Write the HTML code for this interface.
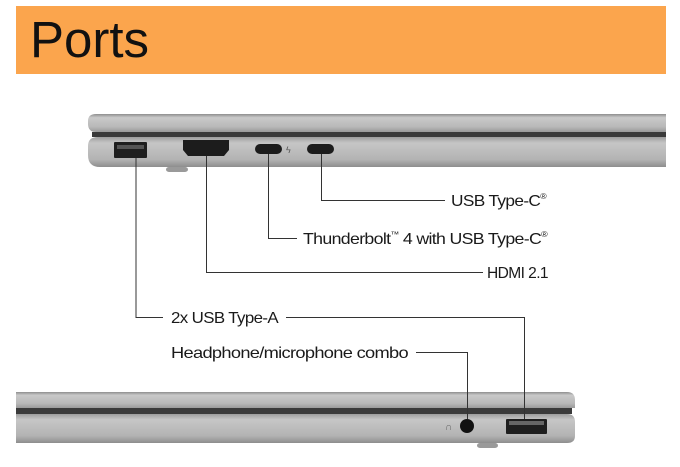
<!DOCTYPE html>
<html><head><meta charset="utf-8"><style>
html,body{margin:0;padding:0;background:#fff;}
body{width:680px;height:467px;overflow:hidden;position:relative;}
svg{position:absolute;left:0;top:0;}
text{font-family:"Liberation Sans",sans-serif;fill:#1a1a1a;}
</style></head><body>
<svg width="680" height="467" viewBox="0 0 680 467">
<defs>
<linearGradient id="lid" x1="0" y1="0" x2="0" y2="1">
<stop offset="0" stop-color="#8e8e8e"/><stop offset="0.2" stop-color="#c9c9c9"/><stop offset="0.7" stop-color="#b9b9b9"/><stop offset="1" stop-color="#9a9a9a"/></linearGradient>
<linearGradient id="base" x1="0" y1="0" x2="0" y2="1">
<stop offset="0" stop-color="#9d9d9d"/><stop offset="0.2" stop-color="#c6c6c6"/><stop offset="0.75" stop-color="#b3b3b3"/><stop offset="1" stop-color="#8e8e8e"/></linearGradient>
</defs>
<rect x="16" y="6" width="650" height="68" fill="#FBA54D"/>
<text x="30" y="57" font-size="51" style="fill:#111">Ports</text>

<!-- top laptop -->
<path d="M96 114 H666 V132 H96 Q88 132 88 124 V121 Q88 114 96 114Z" fill="url(#lid)"/>
<rect x="92" y="132" width="574" height="5" fill="#3a3a3a"/>
<path d="M98 137 H666 V167 H100 Q88 167 88 155 V146 Q88 137 98 137Z" fill="url(#base)"/>
<rect x="166" y="167" width="22" height="5" rx="3" fill="#9a9a9a"/>
<rect x="114" y="142" width="33" height="16" rx="1" fill="#1f1f1f"/>
<rect x="117" y="145" width="27" height="4" fill="#555"/>
<path d="M183 140 H229 V150 L224 156 H188 L183 150Z" fill="#1c1c1c"/>
<rect x="255" y="144" width="27" height="10" rx="5" fill="#1c1c1c"/>
<rect x="307" y="144" width="27" height="10" rx="5" fill="#1c1c1c"/>
<text x="286" y="153" font-size="9" style="fill:#555">ϟ</text>

<!-- bottom laptop -->
<path d="M16 392 H567 Q575 392 575 400 V408 H16Z" fill="url(#lid)"/>
<rect x="16" y="408" width="556" height="6" fill="#3a3a3a"/>
<path d="M16 414 H567 Q575 414 575 422 V436 Q575 443 567 443 H16Z" fill="url(#base)"/>
<rect x="477" y="443" width="21" height="5" rx="3" fill="#9a9a9a"/>
<circle cx="467" cy="426" r="7" fill="#111"/>
<text x="445" y="430" font-size="10" style="fill:#666">∩</text>
<rect x="506" y="419" width="41" height="15" rx="1" fill="#1f1f1f"/>
<rect x="509" y="421" width="35" height="4" fill="#666"/>

<!-- connectors -->
<g stroke="#333" stroke-width="1" fill="none">
<path d="M136 158 V317.5 H163"/>
<path d="M286 317.5 H524.5 V419"/>
<path d="M206.5 156 V272.5 H483"/>
<path d="M268.5 154 V238.5 H297"/>
<path d="M321.5 154 V200.5 H445"/>
<path d="M416 352.5 H467.5 V419"/>
</g>

<g font-size="16" letter-spacing="-0.6">
<text x="451" y="206" textLength="95" lengthAdjust="spacingAndGlyphs">USB Type-C<tspan font-size="8" dy="-7">®</tspan></text>
<text x="303" y="244" textLength="244" lengthAdjust="spacingAndGlyphs">Thunderbolt<tspan font-size="8" dy="-7">™</tspan><tspan dy="7"> 4 with USB Type-C</tspan><tspan font-size="8" dy="-7">®</tspan></text>
<text x="487" y="278" textLength="61" lengthAdjust="spacingAndGlyphs">HDMI 2.1</text>
<text x="171" y="323" textLength="107" lengthAdjust="spacingAndGlyphs">2x USB Type-A</text>
<text x="171" y="358" textLength="237" lengthAdjust="spacingAndGlyphs">Headphone/microphone combo</text>
</g>
</svg>
</body></html>
